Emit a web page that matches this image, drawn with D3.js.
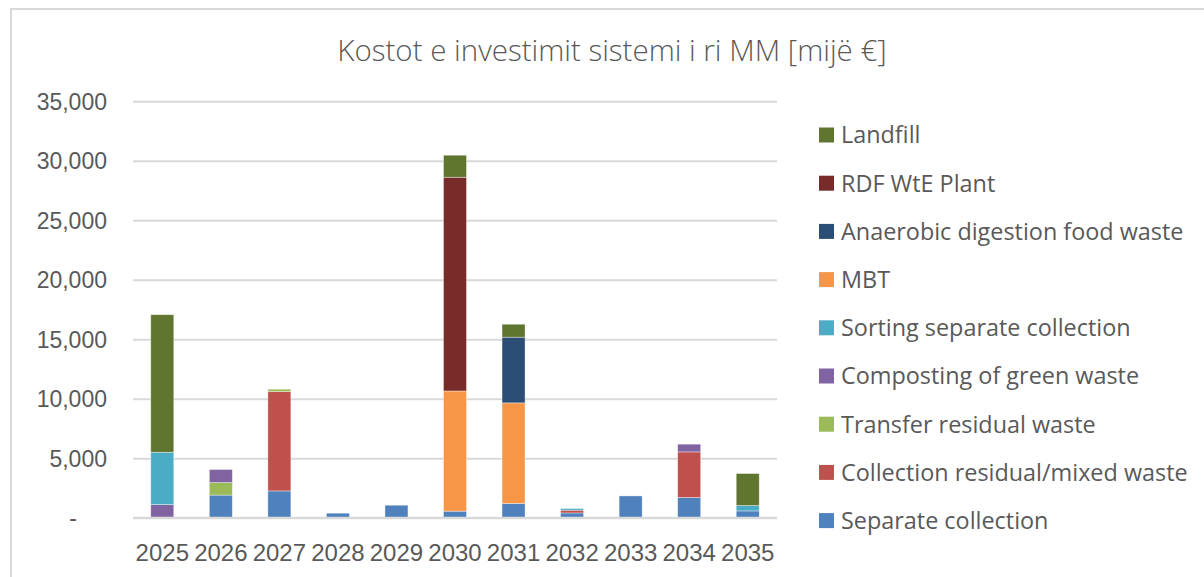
<!DOCTYPE html>
<html>
<head>
<meta charset="utf-8">
<script src="https://cdn.jsdelivr.net/npm/d3@7"></script>
<style>
  html, body { margin: 0; padding: 0; background: #fff; }
  svg { display: block; font-family: "Open Sans", "DejaVu Sans", sans-serif; }
</style>
</head>
<body>
<svg id="chart" width="1204" height="577"></svg>
<script>
const title = "Kostot e investimit sistemi i ri MM [mijë €]";
const years = ["2025","2026","2027","2028","2029","2030","2031","2032","2033","2034","2035"];
const seriesNames = [
  "Separate collection",
  "Collection residual/mixed waste",
  "Transfer residual waste",
  "Composting of green waste",
  "Sorting separate collection",
  "MBT",
  "Anaerobic digestion food waste",
  "RDF WtE Plant",
  "Landfill"
];
const separateCollection   = [0, 1900, 2250, 380, 1050, 550, 1200, 400, 1830, 1700, 570];
const collectionResidual   = [0, 0, 8350, 0, 0, 0, 0, 230, 0, 3830, 0];
const transferResidual     = [0, 1050, 200, 0, 0, 0, 0, 0, 0, 0, 0];
const compostingGreen      = [1100, 1100, 0, 0, 0, 0, 0, 0, 0, 650, 0];
const sortingSeparate      = [4400, 0, 0, 0, 0, 0, 0, 140, 0, 0, 450];
const mbt                  = [0, 0, 0, 0, 0, 10100, 8450, 0, 0, 0, 0];
const anaerobicDigestion   = [0, 0, 0, 0, 0, 0, 5520, 0, 0, 0, 0];
const rdfWtE               = [0, 0, 0, 0, 0, 17960, 0, 0, 0, 0, 0];
const landfill             = [11560, 0, 0, 0, 0, 1850, 1090, 0, 0, 0, 2690];
const seriesValues = [separateCollection, collectionResidual, transferResidual, compostingGreen,
  sortingSeparate, mbt, anaerobicDigestion, rdfWtE, landfill];
const colors = ["#4f81bd","#c0504d","#9bbb59","#8064a2","#4bacc6","#f79646","#2c4d75","#772c2a","#5f7530"];
const yTicks = [0, 5000, 10000, 15000, 20000, 25000, 30000, 35000];

const table = years.map((y, i) => {
  const row = { year: y };
  seriesNames.forEach((s, j) => row[s] = seriesValues[j][i]);
  return row;
});

const svg = d3.select("#chart");
const textColor = "#595959";
const gridColor = "#d9d9d9";

// chart border
svg.append("rect").attr("x", 11).attr("y", 9).attr("width", 1300).attr("height", 700)
  .attr("fill", "none").attr("stroke", gridColor).attr("stroke-width", 2);

const plot = { left: 133, right: 777, top: 101.2, bottom: 517.7 };

const x = d3.scaleBand().domain(years).range([plot.left, plot.right])
  .paddingInner(0.607).paddingOuter(0.3035);
const y = d3.scaleLinear().domain([0, 35000]).range([plot.bottom, plot.top]);

// title
svg.append("text").attr("x", 612).attr("y", 61).attr("text-anchor", "middle")
  .attr("font-size", 29.5).attr("font-weight", 300).attr("fill", textColor).text(title);

// gridlines
const yAxis = d3.axisLeft(y).tickValues(yTicks)
  .tickSize(-(plot.right - plot.left))
  .tickFormat(d => d === 0 ? "-" : d3.format(",")(d));
const gy = svg.append("g").attr("transform", `translate(${plot.left},0)`).call(yAxis);
gy.select(".domain").remove();
gy.selectAll(".tick line").attr("stroke", gridColor).attr("stroke-width", 2);
gy.selectAll(".tick text").attr("fill", textColor).attr("font-size", 23)
  .attr("x", -26).attr("dy", "0.34em")
  .attr("dx", d => d === 0 ? -30 : 0);

// stacked bars
const stack = d3.stack().keys(seriesNames);
const stacked = stack(table);
svg.append("g").selectAll("g").data(stacked).join("g")
  .attr("fill", (d, i) => colors[i])
  .selectAll("rect").data(d => d.filter(p => p[1] - p[0] > 0)).join("rect")
  .attr("x", d => x(d.data.year))
  .attr("width", x.bandwidth())
  .attr("y", d => y(d[1]))
  .attr("height", d => y(d[0]) - y(d[1]))
  .attr("stroke", "#ffffff").attr("stroke-opacity", 0.5).attr("stroke-width", 0.75);

// x axis
const xAxis = d3.axisBottom(x).tickSize(0).tickPadding(0);
const gx = svg.append("g").attr("transform", `translate(0,${plot.bottom})`).call(xAxis);
gx.select(".domain").attr("stroke", gridColor).attr("stroke-width", 2)
  .attr("d", `M${plot.left},0H${plot.right}`);
gx.selectAll(".tick text").attr("fill", textColor).attr("font-size", 24)
  .attr("y", 43).attr("dy", 0);

// legend (reversed order)
const legendItems = seriesNames.map((s, i) => ({ name: s, color: colors[i] })).reverse();
const lg = svg.append("g").selectAll("g").data(legendItems).join("g")
  .attr("transform", (d, i) => `translate(819,${135 + i * 48.2})`);
lg.append("rect").attr("x", 0).attr("y", -7.5).attr("width", 15).attr("height", 15)
  .attr("fill", d => d.color);
lg.append("text").attr("x", 22).attr("dy", "0.36em").attr("font-size", 23.4)
  .attr("fill", textColor).text(d => d.name);
</script>
</body>
</html>
